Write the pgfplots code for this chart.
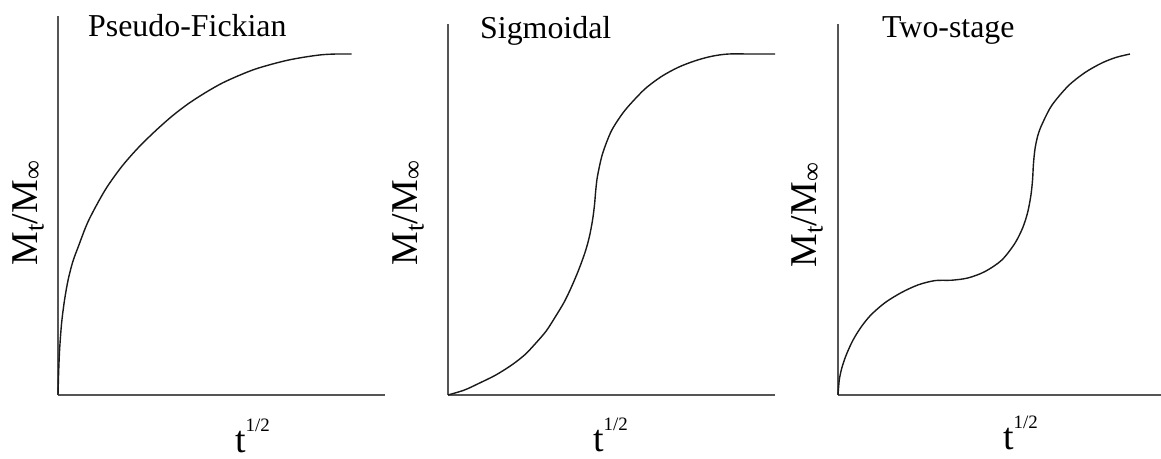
\documentclass[border=0pt]{standalone}
\usepackage{pgfplots}
\pgfplotsset{compat=1.18}
\usepackage{fontspec}
\setmainfont{Liberation Serif}
\definecolor{axgray}{HTML}{555555}
\pgfplotsset{panel/.style={scale only axis, width=327bp, axis lines=left,
  axis line style={-, draw=axgray, line width=1.9bp}, ticks=none,
  xmin=0, xmax=1, ymin=0, clip=false},
  curve/.style={black!90, line width=1.4bp, smooth, tension=0.5, no marks}}
\newcommand{\ttl}[1]{\fontsize{32}{36}\selectfont #1}
\newcommand{\ylab}{\fontsize{38}{42}\selectfont M\textsubscript{t}/M\textsubscript{∞}}
\newcommand{\xlab}{\fontsize{38}{42}\selectfont t\raisebox{0.55em}{\fontsize{19}{22}\selectfont 1/2}}
\begin{document}
\begin{tikzpicture}
\useasboundingbox (-58bp,-64bp) rectangle (1103bp,395bp);
% Panel 1
\begin{axis}[panel, at={(0bp,0bp)}, height=379bp, ymax=0.997]
\addplot[curve] coordinates {(0,0) (0.002,0.06) (0.005,0.12) (0.011,0.189) (0.02,0.25) (0.031,0.303) (0.045,0.35) (0.062,0.39) (0.093,0.458) (0.144,0.539) (0.195,0.601) (0.246,0.651) (0.297,0.694) (0.348,0.733) (0.398,0.766) (0.45,0.795) (0.501,0.82) (0.552,0.84) (0.602,0.857) (0.653,0.87) (0.704,0.881) (0.755,0.889) (0.806,0.895) (0.85,0.897) (0.898,0.897)};
\node[anchor=base west, inner sep=0] at ([xshift=30bp,yshift=358bp]rel axis cs:0,0) {\ttl{Pseudo-Fickian}};
\node[rotate=90, anchor=center, inner sep=0] at ([xshift=-30bp,yshift=182bp]rel axis cs:0,0) {\ylab};
\node[anchor=base west, inner sep=0] at ([xshift=177bp,yshift=-57bp]rel axis cs:0,0) {\xlab};
\end{axis}
% Panel 2
\begin{axis}[panel, at={(390bp,0bp)}, height=371bp, ymax=0.976]
\addplot[curve] coordinates {(0,0) (0.05,0.013) (0.093,0.03) (0.145,0.052) (0.195,0.079) (0.235,0.106) (0.266,0.134) (0.3,0.168) (0.327,0.204) (0.355,0.244) (0.378,0.285) (0.4,0.33) (0.419,0.375) (0.432,0.415) (0.442,0.46) (0.448,0.5) (0.452,0.54) (0.457,0.575) (0.47,0.627) (0.485,0.665) (0.501,0.697) (0.525,0.73) (0.551,0.759) (0.602,0.805) (0.653,0.838) (0.704,0.862) (0.755,0.879) (0.806,0.891) (0.857,0.897) (0.93,0.897) (1.0,0.897)};
\node[anchor=base west, inner sep=0] at ([xshift=32bp,yshift=356bp]rel axis cs:0,0) {\ttl{Sigmoidal}};
\node[rotate=90, anchor=center, inner sep=0] at ([xshift=-40bp,yshift=182bp]rel axis cs:0,0) {\ylab};
\node[anchor=base west, inner sep=0] at ([xshift=145bp,yshift=-56bp]rel axis cs:0,0) {\xlab};
\end{axis}
% Panel 3
\begin{axis}[panel, at={(780bp,0bp)}, height=371bp, ymax=0.976, width=323bp, xmax=0.988]
\addplot[curve] coordinates {(0,0) (0.004,0.04) (0.012,0.072) (0.025,0.105) (0.045,0.143) (0.07,0.178) (0.1,0.21) (0.144,0.243) (0.195,0.27) (0.246,0.29) (0.297,0.301) (0.348,0.302) (0.398,0.308) (0.45,0.325) (0.501,0.355) (0.541,0.399) (0.565,0.44) (0.58,0.48) (0.59,0.525) (0.595,0.565) (0.598,0.61) (0.603,0.65) (0.612,0.685) (0.625,0.714) (0.654,0.762) (0.704,0.813) (0.755,0.848) (0.806,0.873) (0.85,0.888) (0.893,0.897)};
\node[anchor=base west, inner sep=0] at ([xshift=44bp,yshift=357bp]rel axis cs:0,0) {\ttl{Two-stage}};
\node[rotate=90, anchor=center, inner sep=0] at ([xshift=-31bp,yshift=180bp]rel axis cs:0,0) {\ylab};
\node[anchor=base west, inner sep=0] at ([xshift=165bp,yshift=-54bp]rel axis cs:0,0) {\xlab};
\end{axis}
\end{tikzpicture}
\end{document}
